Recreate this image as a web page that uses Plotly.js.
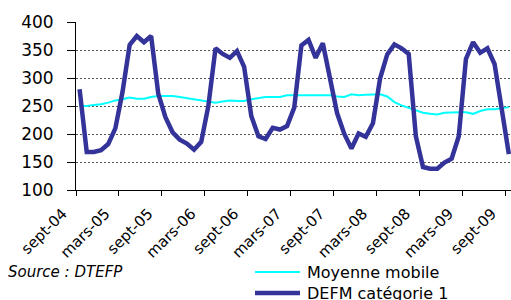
<!DOCTYPE html>
<html>
<head>
<meta charset="utf-8">
<script src="https://cdn.plot.ly/plotly-3.0.1.min.js"></script>
<style>
  html, body { margin: 0; padding: 0; background: #ffffff; }
  #chart { width: 511px; height: 300px; }
</style>
</head>
<body>
<div id="chart"></div>
<script>
// Monthly categories, sept-04 to sept-09
const months = [
  "sept-04","oct-04","nov-04","déc-04",
  "janv-05","févr-05","mars-05","avr-05","mai-05","juin-05","juil-05","août-05","sept-05","oct-05","nov-05","déc-05",
  "janv-06","févr-06","mars-06","avr-06","mai-06","juin-06","juil-06","août-06","sept-06","oct-06","nov-06","déc-06",
  "janv-07","févr-07","mars-07","avr-07","mai-07","juin-07","juil-07","août-07","sept-07","oct-07","nov-07","déc-07",
  "janv-08","févr-08","mars-08","avr-08","mai-08","juin-08","juil-08","août-08","sept-08","oct-08","nov-08","déc-08",
  "janv-09","févr-09","mars-09","avr-09","mai-09","juin-09","juil-09","août-09","sept-09"
];

// DEFM catégorie 1
const defm = [
  280,168,168,171,182,210,275,359,375,364,375,272,230,203,190,183,172,186,250,353,
  343,336,348,320,232,196,191,211,208,214,247,358,368,336,362,299,237,200,174,201,
  195,219,299,342,360,353,343,196,141,138,138,149,156,196,334,364,345,353,325,245,164
];

// Moyenne mobile
const moyenne = [
  250,250,252,253,256,260,262,265,263,263,266,268,268,268,266,264,263,261,258,256,
  258,260,259,259,262,264,266,266,266,269,269,269,269,269,269,269,267,266,271,269,
  270,271,271,267,257,251,247,242,238,236,235,238,239,239,239,236,241,244,244,246,248
];

const seriesNames = ["Moyenne mobile", "DEFM catégorie 1"];
const seriesColors = ["#00FFFF", "#333399"];
const seriesWidths = [2, 4.5];
const yTicks = [100, 150, 200, 250, 300, 350, 400];

// boundary tick positions (every 6 categories), used for the inner half of the x ticks
const boundaryTicks = [];
for (let i = 0; i < months.length; i += 6) boundaryTicks.push(i - 0.5);

const FONT = "DejaVu Sans, Verdana, sans-serif";

// plot-area geometry (px) used to place the hand-made legend and source note
const PL = 76, PW = 435, PB = 190, PH = 168;
const px = v => (v - PL) / PW;
const py = v => (PB - v) / PH;

const traces = [
  {
    x: months, y: moyenne, name: seriesNames[0], type: "scatter", mode: "lines",
    line: { color: seriesColors[0], width: seriesWidths[0] }, hoverinfo: "skip", showlegend: false
  },
  {
    x: months, y: defm, name: seriesNames[1], type: "scatter", mode: "lines",
    line: { color: seriesColors[1], width: seriesWidths[1] }, hoverinfo: "skip", showlegend: false
  }
];

const legendRows = [272, 293];
const shapes = [];
const annotations = [];
seriesNames.forEach((name, i) => {
  shapes.push({
    type: "line", xref: "paper", yref: "paper",
    x0: px(255), x1: px(300), y0: py(legendRows[i]), y1: py(legendRows[i]),
    line: { color: seriesColors[i], width: seriesWidths[i] }
  });
  annotations.push({
    text: name, xref: "paper", yref: "paper",
    x: px(305), y: py(legendRows[i]), xanchor: "left", yanchor: "middle",
    showarrow: false, font: { family: FONT, size: 16, color: "#000000" }
  });
});
annotations.push({
  text: "Source : DTEFP", xref: "paper", yref: "paper",
  x: px(6), y: py(272), xanchor: "left", yanchor: "middle",
  showarrow: false,
  font: { family: FONT, size: 15, style: "italic", color: "#000000" }
});

const layout = {
  width: 511, height: 300,
  margin: { l: PL, r: 0, t: 22, b: 300 - PB, pad: 0 },
  paper_bgcolor: "#ffffff", plot_bgcolor: "#ffffff",
  font: { family: FONT, color: "#000000" },
  showlegend: false,
  xaxis: {
    type: "category", categoryorder: "array", categoryarray: months,
    range: [-0.5, 60.3], tickmode: "linear", tick0: 0, dtick: 6,
    tickson: "boundaries", ticks: "outside", ticklen: 5, tickwidth: 1, tickcolor: "#000000",
    showline: true, linecolor: "#000000", linewidth: 1,
    showgrid: false, zeroline: false, tickangle: -45, automargin: false,
    ticklabelshift: -17, ticklabelstandoff: 8,
    tickfont: { family: FONT, size: 15, color: "#000000" }
  },
  xaxis2: {
    overlaying: "x", anchor: "y", side: "bottom", type: "linear",
    range: [-0.5, 60.3], tickmode: "array", tickvals: boundaryTicks,
    ticks: "inside", ticklen: 5, tickwidth: 1, tickcolor: "#000000",
    showticklabels: false, showline: false, showgrid: false, zeroline: false
  },
  yaxis: {
    range: [100, 400], tickmode: "array", tickvals: yTicks,
    ticks: "outside", ticklen: 8, tickwidth: 1, tickcolor: "#000000",
    showline: true, linecolor: "#000000", linewidth: 1,
    showgrid: true, gridcolor: "#555555", gridwidth: 1, griddash: "2px,2px",
    zeroline: false, automargin: false, ticklabelstandoff: 10,
    tickfont: { family: FONT, size: 17, color: "#000000" }
  },
  shapes: shapes,
  annotations: annotations
};

Plotly.newPlot("chart", traces, layout, { staticPlot: true, displayModeBar: false });
</script>
</body>
</html>
